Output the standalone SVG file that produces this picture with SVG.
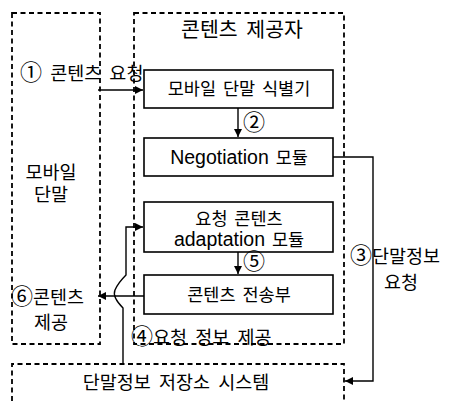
<svg xmlns="http://www.w3.org/2000/svg" width="457" height="401" viewBox="0 0 457 401">
<defs>
<marker id="ah" viewBox="0 0 10 10" refX="10" refY="5" markerWidth="9" markerHeight="8" markerUnits="userSpaceOnUse" orient="auto">
<path d="M0,0 L10,5 L0,10 z" fill="#000"/>
</marker>
<style>
.dash{fill:none;stroke:#000;stroke-width:1.8;stroke-dasharray:5 3.5}
.box{fill:#fff;stroke:#000;stroke-width:1.6}
.con{fill:none;stroke:#000;stroke-width:1.4}
text{font-family:"Liberation Sans","Noto Sans CJK KR",sans-serif;fill:#000}
.t{font-size:17.5px;text-anchor:middle;word-spacing:2px}
.lat{font-size:19.5px}
.l{font-size:18.5px;word-spacing:3px}
.c{font-size:22px}
</style>
</defs>
<rect width="457" height="401" fill="#fff"/>
<g id="mobile-terminal">
<rect class="dash" x="12" y="13" width="88" height="331"/>
<text class="l" x="51" y="179" text-anchor="middle">모바일</text>
<text class="l" x="51" y="201" text-anchor="middle">단말</text>
</g>
<g id="content-provider">
<rect class="dash" x="134" y="13" width="210" height="331"/>
<text x="242" y="37" font-size="20.5" text-anchor="middle" word-spacing="3">콘텐츠 제공자</text>
</g>
<g id="terminal-info-storage">
<path class="dash" d="M12 401 V364 H344 V401"/>
<text class="l" x="176" y="389" text-anchor="middle">단말정보 저장소 시스템</text>
</g>
<g id="identifier">
<rect class="box" x="144" y="70" width="189" height="38"/>
<text class="t" x="239" y="95">모바일 단말 식별기</text>
</g>
<g id="negotiation">
<rect class="box" x="144" y="138" width="189" height="38"/>
<text class="t" x="239" y="164"><tspan class="lat">Negotiation</tspan> 모듈</text>
</g>
<g id="adaptation">
<rect class="box" x="144" y="202" width="189" height="50"/>
<text class="t" x="239" y="225">요청 콘텐츠</text>
<text class="t" x="239" y="246"><tspan class="lat">adaptation</tspan> 모듈</text>
</g>
<g id="transmitter">
<rect class="box" x="144" y="275" width="189" height="39"/>
<text class="t" x="239" y="301">콘텐츠 전송부</text>
</g>
<g id="connectors">
<path class="con" d="M98 90 H143" marker-end="url(#ah)"/>
<path class="con" d="M238 108 V137" marker-end="url(#ah)"/>
<path class="con" d="M333 157 H373 V381 H345" marker-end="url(#ah)"/>
<path class="con" d="M238 252 V274" marker-end="url(#ah)"/>
<path class="con" d="M144 296 H98" marker-end="url(#ah)"/>
<path class="con" d="M123 364 V308 Q112 297 115 290 Q118 283 126 275 V227 H143" marker-end="url(#ah)"/>
</g>
<g id="labels">
<text class="l" x="20" y="80"><tspan class="c">①</tspan> 콘텐츠 요청</text>
<text class="l" x="243" y="130"><tspan class="c">②</tspan></text>
<text class="l" x="350" y="263"><tspan class="c">③</tspan>단말정보</text>
<text class="l" x="401" y="289" text-anchor="middle">요청</text>
<text class="l" x="131" y="344"><tspan class="c">④</tspan>요청 정보 제공</text>
<text class="l" x="243" y="269"><tspan class="c">⑤</tspan></text>
<text class="l" x="11" y="304"><tspan class="c">⑥</tspan>콘텐츠</text>
<text class="l" x="51" y="329" text-anchor="middle">제공</text>
</g>
</svg>
